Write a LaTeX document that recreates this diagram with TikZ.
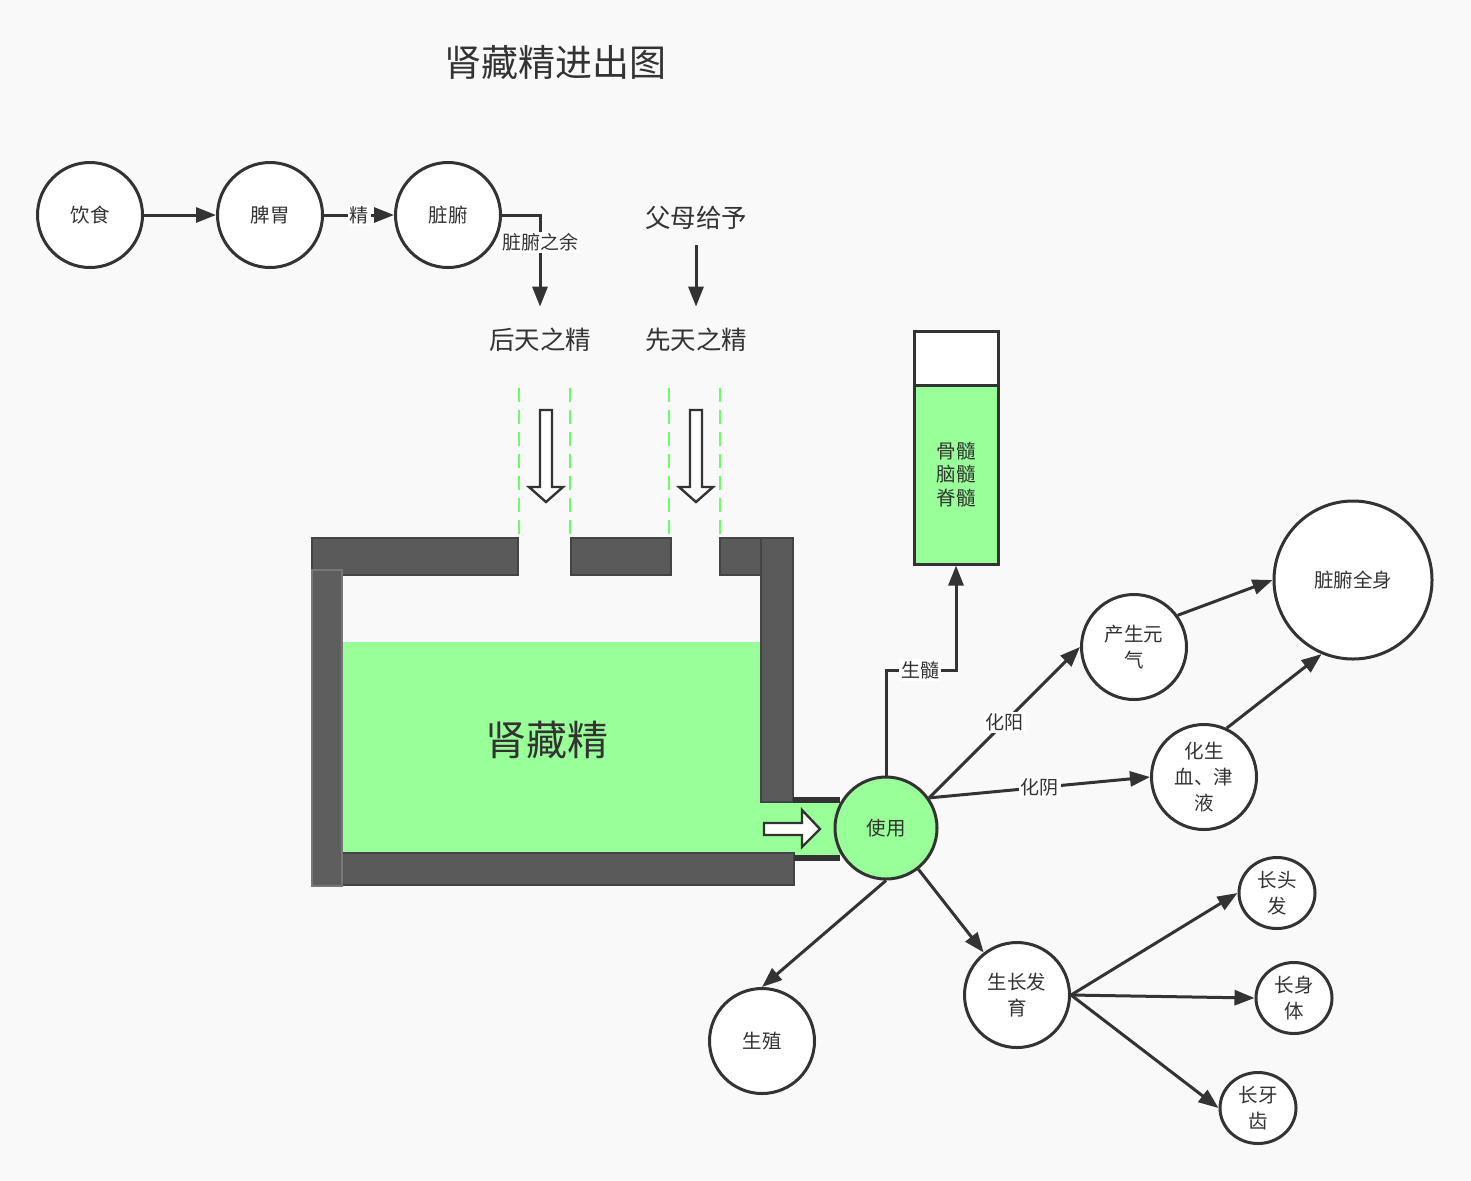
\documentclass[tikz,border=0pt]{standalone}
\usepackage{fontspec}
\setmainfont{Noto Sans CJK SC}
\usetikzlibrary{arrows.meta,shapes.geometric}

\definecolor{inkgray}{HTML}{333333}
\definecolor{bggray}{HTML}{F9F9F9}
\definecolor{jinggreen}{HTML}{99FF99}
\definecolor{dashgreen}{HTML}{66FF66}
\definecolor{wallgray}{HTML}{5A5A5A}
\definecolor{walledge}{HTML}{444444}
\definecolor{sidewall}{HTML}{5E5E5E}
\definecolor{sideedge}{HTML}{777777}

\tikzset{
    wall/.style={fill=wallgray,draw=walledge,line width=1pt},
    hollowarrow/.style={fill=white,draw=inkgray,line width=1.2pt},
    feeddash/.style={dashgreen,line width=1.1pt,dash pattern=on 7pt off 4pt},
    jingtext/.style={text=inkgray,font=\fontsize{12.75}{15}\selectfont,minimum height=33pt,inner sep=0pt}
}

\newcommand{\hollowdown}[1]{%
    \draw[hollowarrow] (#1-6,410) -- (#1+6,410) -- (#1+6,487) -- (#1+17,487)
        -- (#1,502) -- (#1-17,487) -- (#1-6,487) -- cycle;}

\begin{document}
\begin{tikzpicture}[x=0.5pt,y=-0.5pt]
        \fill[bggray] (0,0) rectangle (1471,1180);
        \node[text=inkgray,font=\fontsize{18.5}{22}\selectfont] (title) at (555,62) {肾藏精进出图};

        % tank
        \fill[jinggreen] (343,642) rectangle (761,853);
        \fill[jinggreen] (761,803) rectangle (845,855);
        \draw[wall] (312,538) rectangle (518,575);
        \draw[wall] (571,538) rectangle (671,575);
        \draw[wall] (720,538) rectangle (761,575);
        \draw[wall] (761,538) rectangle (793,802);
        \draw[wall] (341,853) rectangle (794,885);
        \draw[fill=sidewall,draw=sideedge,line width=1pt] (312,570) rectangle (342,886);
        \draw[inkgray,line width=3pt] (793,800) -- (840,800);
        \draw[inkgray,line width=3pt] (794,858) -- (840,858);
        \node[text=inkgray,font=\fontsize{20.5}{24}\selectfont] (shenjing) at (547,740) {肾藏精};

        \foreach \dx in {519,570,669,720}
            \draw[feeddash] (\dx,388) -- (\dx,538);
        \hollowdown{546}
        \hollowdown{696}
        \draw[hollowarrow] (764,823) -- (802,823) -- (802,810) -- (820,829)
            -- (802,847) -- (802,835) -- (764,835) -- cycle;

        \node[jingtext] (houtian) at (540,340) {后天之精};
        \node[jingtext] (xiantian) at (696,340) {先天之精};
        \node[jingtext,minimum height=27pt] (fumu) at (696,218) {父母给予};

        \begin{scope}[every node/.style={draw=inkgray,line width=1.5pt,text=inkgray,
                font=\fontsize{9.75}{11.75}\selectfont,align=center}]
            \node[fill=white,minimum width=42pt,minimum height=27pt] (tubetop) at (956,358) {};
            \node[fill=jinggreen,minimum width=42pt,minimum height=89.5pt] (marrow) at (956,474.5) {骨髓\\脑髓\\脊髓};
        \end{scope}

        \begin{scope}[every node/.style={circle,draw=inkgray,line width=1.5pt,fill=white,
                minimum size=52.5pt,inner sep=0pt,align=center,text=inkgray,
                font=\fontsize{9.75}{13}\selectfont}]
            \node (yinshi) at (90,215) {饮食};
            \node (piwei) at (270,215) {脾胃};
            \node (zangfu) at (448,215) {脏腑};
            \node[fill=jinggreen,minimum size=51pt] (shiyong) at (886,828) {使用};
            \node (chanqi) at (1134,647) {产生元\\气};
            \node (huasheng) at (1204,777) {化生\\血、津\\液};
            \node[minimum size=79pt] (quanshen) at (1353,580) {脏腑全身};
            \node (shengzhi) at (762,1041) {生殖};
            \node (shengzhang) at (1017,995) {生长发\\育};
            \node[ellipse,minimum width=38pt,minimum height=35.5pt] (toufa) at (1277,893) {长头\\发};
            \node[ellipse,minimum width=38pt,minimum height=35.5pt] (shenti) at (1294,998) {长身\\体};
            \node[ellipse,minimum width=38pt,minimum height=35.5pt] (yachi) at (1258,1108) {长牙\\齿};
        \end{scope}

        \begin{scope}[>={Triangle[length=10pt,width=7.5pt]},
            every node/.style={fill=white,text=inkgray,inner sep=1pt,
                font=\fontsize{9.5}{11}\selectfont},
            every edge/.style={draw=inkgray,line width=1.5pt}]
            \path [->] (yinshi) edge (piwei);
            \path [->] (piwei) edge node{精} (zangfu);
            \path [->] (fumu) edge (xiantian);
            \path [->] (shiyong.35) edge node{化阳} (chanqi.west);
            \path [->] (shiyong.35) edge node{化阴} (huasheng.west);
            \path [->] (chanqi.36) edge (quanshen.west);
            \path [->] (huasheng.65) edge (quanshen.247);
            \path [->] (shiyong.south) edge (shengzhi.north);
            \path [->] (shiyong) edge (shengzhang);
            \path [->] (shengzhang.east) edge (toufa.west);
            \path [->] (shengzhang.east) edge (shenti.west);
            \path [->] (shengzhang.east) edge (yachi.west);
            \coordinate (suimid) at (920,670);
            \draw [->,inkgray,line width=1.5pt] (zangfu.east) -| node[pos=0.65]{脏腑之余} (houtian.north);
            \draw [->,inkgray,line width=1.5pt] (shiyong.north) |- (suimid) node{生髓} -| (marrow.south);
        \end{scope}
    \end{tikzpicture}
\end{document}
